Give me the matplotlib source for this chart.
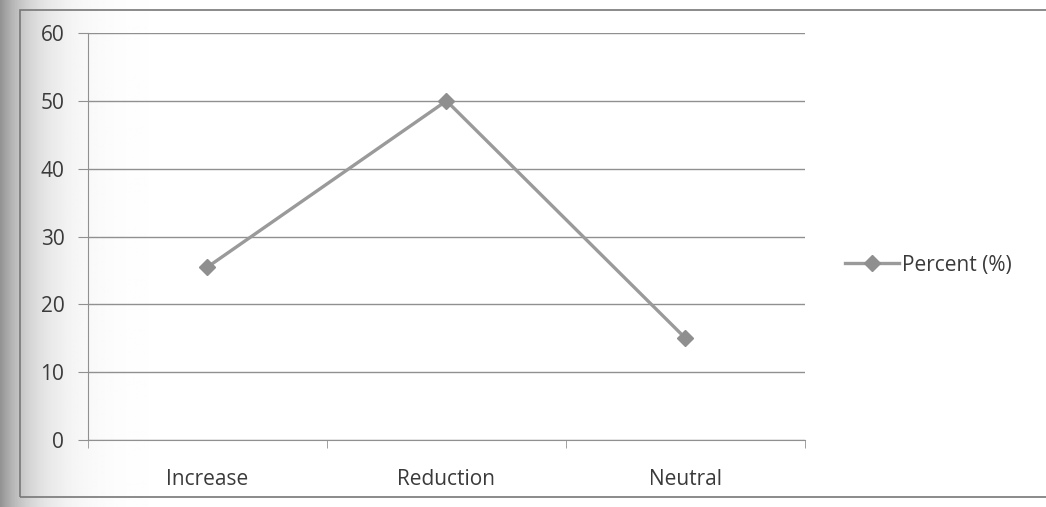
import numpy as np
import matplotlib
matplotlib.use("Agg")
import matplotlib.pyplot as plt
from matplotlib.patches import Rectangle

# chart data
categories = ["Increase", "Reduction", "Neutral"]
percent = [25.5, 50, 15]
y_ticks = [0, 10, 20, 30, 40, 50, 60]

plt.rcParams["font.family"] = ["Open Sans", "DejaVu Sans"]

fig = plt.figure(figsize=(10.46, 5.07), dpi=100)

# scanned page shading on the left edge
bg = fig.add_axes([0, 0, 1, 1], zorder=-10)
grad = np.linspace(0, 1, 600)
shade = 1 - 0.42 * np.exp(-grad / 0.03)
bg.imshow(np.tile(shade, (10, 1)), cmap="gray", vmin=0, vmax=1,
          aspect="auto", extent=[0, 1, 0, 1])
bg.add_patch(Rectangle((0.019, 0.02), 1.2, 0.96, fill=False,
                       edgecolor="#777777", linewidth=1.2))
bg.set_xlim(0, 1)
bg.set_ylim(0, 1)
bg.axis("off")

ax = fig.add_axes([0.0841, 0.1321, 0.6855, 0.8028])
ax.patch.set_alpha(0)

x = np.arange(len(categories))
ax.plot(x, percent, color="#9a9a9a", linewidth=2.4, marker="D",
        markersize=8, markerfacecolor="#8f8f8f", markeredgecolor="#8f8f8f",
        label="Percent (%)")

ax.set_xlim(-0.5, len(categories) - 0.5)
ax.set_ylim(0, 60)
ax.set_yticks(y_ticks)
ax.set_xticks(x)
ax.set_xticklabels(categories)
ax.set_xticks(np.arange(-0.5, len(categories)), minor=True)

ax.grid(axis="y", color="#909090", linewidth=1)
ax.set_axisbelow(True)
for side in ["top", "right"]:
    ax.spines[side].set_visible(False)
ax.spines["left"].set_color("#909090")
ax.spines["bottom"].set_color("#909090")

ax.tick_params(axis="y", length=7, color="#909090", labelsize=15,
               labelcolor="#3a3a3a", pad=10)
ax.tick_params(axis="x", which="major", length=0, labelsize=15,
               labelcolor="#3a3a3a", pad=21)
ax.tick_params(axis="x", which="minor", length=6, color="#909090")

ax.legend(loc="center left", bbox_to_anchor=(1.056, 0.43), frameon=False,
          fontsize=15, handlelength=2.6, handletextpad=0.15,
          borderaxespad=0, borderpad=0, labelcolor="#3a3a3a")

fig.savefig("out.png", dpi=100)
